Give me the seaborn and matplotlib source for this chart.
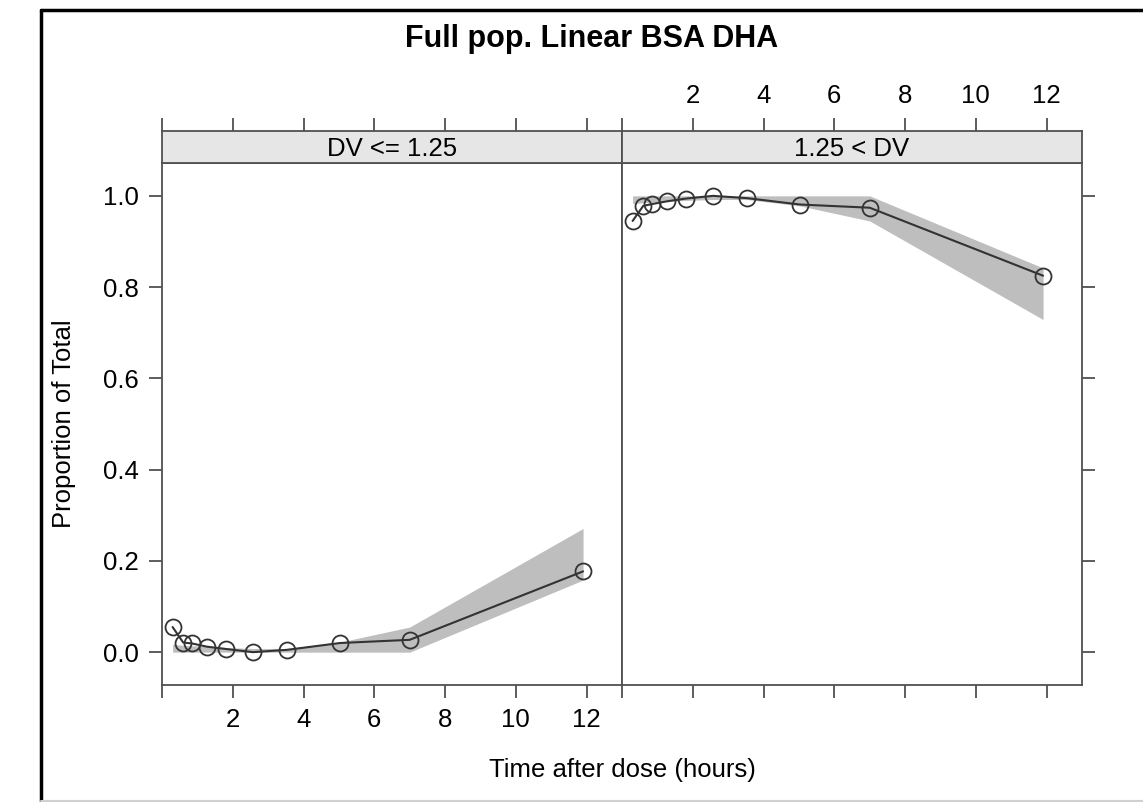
#!/usr/bin/env python3
"""Full pop. Linear BSA DHA - proportion of total vs time, two DV panels"""

import numpy as np
import pandas as pd
import matplotlib
matplotlib.use('Agg')
import matplotlib.pyplot as plt
from matplotlib.lines import Line2D
import seaborn as sns

sns.set_style('white')
plt.rcParams['font.family'] = ['Liberation Sans', 'DejaVu Sans']
plt.rcParams['text.color'] = 'black'

# ---- data ----
panel_labels = ['DV <= 1.25', '1.25 < DV']
time_h = [0.3, 0.6, 0.85, 1.27, 1.8, 2.57, 3.53, 5.03, 7.0, 11.9]

# DV <= 1.25
prop_low = [0.055, 0.021, 0.019, 0.012, 0.007, 0.0, 0.005, 0.020, 0.027, 0.177]
band_low_lo = [0.0, 0.0, 0.0, 0.0, 0.0, 0.0, 0.0, 0.0, 0.0, 0.158]
band_low_hi = [0.017, 0.015, 0.014, 0.012, 0.010, 0.008, 0.008, 0.022, 0.055, 0.271]

# 1.25 < DV
prop_high = [0.945, 0.978, 0.982, 0.988, 0.994, 1.0, 0.995, 0.981, 0.974, 0.825]
band_high_lo = [0.983, 0.985, 0.986, 0.988, 0.990, 0.992, 0.992, 0.978, 0.945, 0.729]
band_high_hi = [1.0, 1.0, 1.0, 1.0, 1.0, 1.0, 1.0, 1.0, 1.0, 0.842]

x_ticks = [0, 2, 4, 6, 8, 10, 12]
x_ticklabels = ['', '2', '4', '6', '8', '10', '12']
y_ticks = [0.0, 0.2, 0.4, 0.6, 0.8, 1.0]

W, H = 1143, 802
fig = plt.figure(figsize=(W / 100, H / 100), dpi=100)

def px_box(x0, y0, x1, y1):
    # pixel box (top-left origin) -> figure fraction rect
    return [x0 / W, 1 - y1 / H, (x1 - x0) / W, (y1 - y0) / H]

edge = '#505050'
fs = 18.5
tick_len = 9.4

panels = [
    (prop_low, band_low_lo, band_low_hi),
    (prop_high, band_high_lo, band_high_hi),
]
left_px = [162, 622]

for i, (prop, blo, bhi) in enumerate(panels):
    x0 = left_px[i]
    ax = fig.add_axes(px_box(x0, 163, x0 + 460, 685))
    st = fig.add_axes(px_box(x0, 131, x0 + 460, 163))

    df = pd.DataFrame({'time': time_h, 'prop': prop})
    ax.fill_between(time_h, blo, bhi, color='#bebebe', lw=0, zorder=1)
    sns.lineplot(data=df, x='time', y='prop', ax=ax, color='#333333',
                 linewidth=1.5, marker='o', markersize=11.5,
                 markerfacecolor='none', markeredgecolor='#333333',
                 markeredgewidth=1.3, zorder=3)

    ax.set_xlim(0, 13.0)
    ax.set_ylim(-0.072, 1.072)
    ax.set_xlabel('')
    ax.set_ylabel('')
    ax.set_xticks(x_ticks)
    ax.set_yticks(y_ticks)
    for sp in ax.spines.values():
        sp.set_color(edge)
        sp.set_linewidth(1.3)

    ax.tick_params(axis='both', direction='out', length=tick_len, width=1.3,
                   color=edge, labelsize=fs, labelcolor='black', pad=7)
    if i == 0:
        ax.set_xticklabels(x_ticklabels)
        ax.set_yticklabels([f'{v:.1f}' for v in y_ticks])
        ax.tick_params(axis='y', left=True, right=False, labelleft=True)
        ax.tick_params(axis='x', bottom=True, labelbottom=True)
    else:
        ax.set_xticklabels([])
        ax.tick_params(axis='y', left=False, right=True, labelleft=False,
                       labelright=False)
        ax.tick_params(axis='x', bottom=True, labelbottom=False)

    # strip with top axis ticks
    st.set_xlim(0, 13.0)
    st.set_ylim(0, 1)
    st.set_facecolor('#e6e6e6')
    st.set_yticks([])
    st.set_xticks(x_ticks)
    st.xaxis.set_ticks_position('top')
    st.tick_params(axis='x', direction='out', length=tick_len, width=1.3,
                   color=edge, labelsize=fs, labelcolor='black', pad=7,
                   top=True, bottom=False, labelbottom=False,
                   labeltop=(i == 1))
    if i == 1:
        st.set_xticklabels(x_ticklabels)
    for sp in st.spines.values():
        sp.set_color(edge)
        sp.set_linewidth(1.3)
    st.text(0.5, 0.45, panel_labels[i], transform=st.transAxes,
            ha='center', va='center', fontsize=fs, color='black')

fig.text(592 / W, 1 - 47 / H, 'Full pop. Linear BSA DHA', ha='center',
         va='baseline', fontsize=22, fontweight='bold', color='black')
fig.text(622 / W, 1 - 777 / H, 'Time after dose (hours)', ha='center',
         va='baseline', fontsize=fs, color='black')
fig.text(64 / W, 1 - 424 / H, 'Proportion of Total', ha='center',
         va='center', rotation=90, fontsize=fs, color='black')

# outer frame
fig.add_artist(Line2D([41 / W, 41 / W], [1 / H, 1 - 10 / H], color='black',
                      lw=2.5, transform=fig.transFigure))
fig.add_artist(Line2D([41 / W, 1.0], [1 - 10 / H, 1 - 10 / H], color='black',
                      lw=2.5, transform=fig.transFigure))
fig.add_artist(Line2D([41 / W, 1.0], [1 / H, 1 / H], color='#d0d0d0',
                      lw=1.5, transform=fig.transFigure))

plt.savefig('out.png', dpi=100)
plt.close()
